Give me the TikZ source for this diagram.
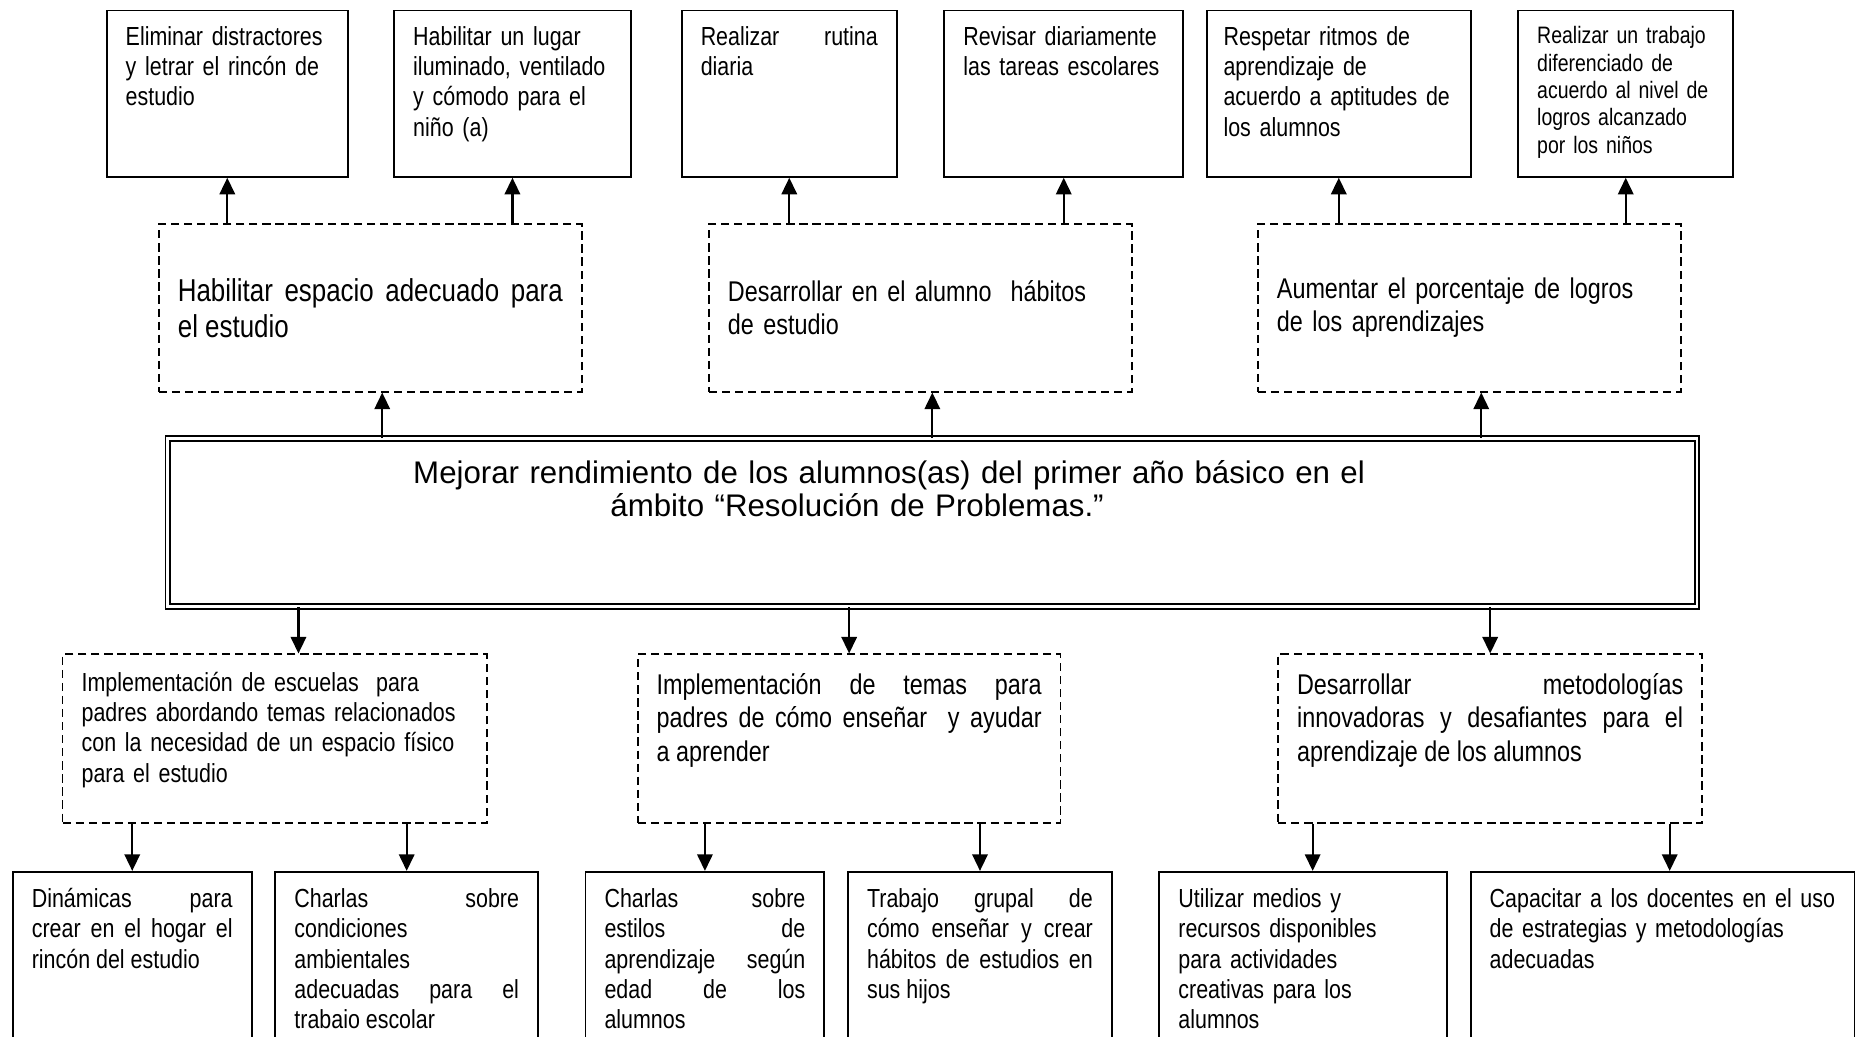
\documentclass[tikz,border=0pt]{standalone}
\usepackage{fontspec}
\setmainfont{Liberation Sans}
\newfontfamily\narrowfont{Liberation Sans}[FakeStretch=0.82]
\usetikzlibrary{arrows.meta}

\begin{document}
\begin{tikzpicture}[x=0.5pt,y=-0.5pt,
  solidbox/.style={draw,line width=0.8pt,anchor=north west,inner xsep=8pt,inner ysep=0pt,align=left},
  dashedbox/.style={solidbox,line width=0.7pt,dash pattern=on 3.5pt off 2pt},
  smallfont/.style={font=\narrowfont\fontsize{11}{12.75}\selectfont},
  midfont/.style={font=\narrowfont\fontsize{12}{14}\selectfont},
  finbox/.style={solidbox,smallfont,text height=14.7pt,text depth=55.3pt},
  objbox/.style={dashedbox,midfont,minimum height=70.5pt},
  medbox/.style={solidbox,smallfont,text height=15pt,text depth=70pt},
  link/.style={-{Triangle[length=7pt,width=6.5pt]},line width=0.9pt}]
\path[use as bounding box] (0,0) rectangle (1568,872);
\clip (0,0) rectangle (1568,872);
\node[finbox,text width=85.5pt] (t1) at (89,8) {Eliminar distractores\\y letrar el rincón de\\estudio};
\node[finbox,text width=83.5pt] (t2) at (331,8) {Habilitar un lugar\\iluminado, ventilado\\y cómodo para el\\niño (a)};
\node[finbox,text width=74.5pt,align=justify] (t3) at (573,8) {Realizar rutina\linebreak diaria};
\node[finbox,text width=84.5pt] (t4) at (794,8) {Revisar diariamente\\las tareas escolares};
\node[finbox,text width=97pt,inner xsep=7pt] (t5) at (1015,8) {Respetar ritmos de\\aprendizaje de\\acuerdo a aptitudes de\\los alumnos};
\node[finbox,text width=74.5pt,font=\narrowfont\fontsize{10}{11.5}\selectfont,text height=14pt,text depth=56pt] (t6) at (1277,8) {Realizar un trabajo\\diferenciado de\\acuerdo al nivel de\\logros alcanzado\\por los niños};
\node[objbox,text width=162pt,align=justify,font=\narrowfont\fontsize{13.3}{15}\selectfont] (m1) at (133,188) {Habilitar espacio adecuado para\linebreak el estudio};
\node[objbox,text width=162pt] (m2) at (596,188) {Desarrollar en el alumno~ hábitos\\de estudio};
\node[objbox,text width=162pt] (m3) at (1058,188) {Aumentar el porcentaje de logros\\de los aprendizajes};
\node[draw,double,double distance=1.2pt,line width=0.8pt,anchor=north west,inner sep=0pt,text width=643.5pt,align=left,text height=18.75pt,text depth=51.75pt,font=\fontsize{13.15}{14}\selectfont] (main) at (140.5,368.5) {\hspace*{103.25pt}Mejorar rendimiento de los alumnos(as) del primer año básico en el\\\hspace*{186.25pt}ámbito “Resolución de Problemas.”};
\node[dashedbox,smallfont,text width=162.5pt,text height=15.5pt,text depth=55.5pt] (b1) at (52,550) {Implementación de escuelas~ para\\padres abordando temas relacionados\\con la necesidad de un espacio físico\\para el estudio};
\node[dashedbox,midfont,text width=162pt,align=justify,text height=17pt,text depth=54pt] (b2) at (536,550) {Implementación de temas para\linebreak padres de cómo enseñar~ y ayudar\linebreak a aprender};
\node[dashedbox,midfont,text width=162.5pt,align=justify,text height=17pt,text depth=54pt] (b3) at (1075,550) {Desarrollar metodologías\linebreak innovadoras y desafiantes para el\linebreak aprendizaje de los alumnos};
\node[medbox,text width=84.5pt,align=justify] (l1) at (10,733) {Dinámicas para\linebreak crear en el hogar el\linebreak rincón del estudio};
\node[medbox,text width=94.5pt,align=justify] (l2) at (231,733) {Charlas sobre\linebreak condiciones\\ambientales\\adecuadas para el\linebreak trabaio escolar};
\node[medbox,text width=84.5pt,align=justify] (l3) at (492,733) {Charlas sobre\linebreak estilos de\linebreak aprendizaje según\linebreak edad de los\linebreak alumnos};
\node[medbox,text width=95pt,align=justify] (l4) at (713,733) {Trabajo grupal de\linebreak cómo enseñar y crear\linebreak hábitos de estudios en\linebreak sus hijos};
\node[medbox,text width=105pt] (l5) at (975,733) {Utilizar medios y\\recursos disponibles\\para actividades\\creativas para los\\alumnos};
\node[medbox,text width=145.5pt] (l6) at (1237,733) {Capacitar a los docentes en el uso\\de estrategias y metodologías\\adecuadas};
\draw[link] (t1.south |- m1.north) -- (t1.south);
\draw[link] (t2.south |- m1.north) -- (t2.south);
\draw[link] (t3.south |- m2.north) -- (t3.south);
\draw[link] (t4.south |- m2.north) -- (t4.south);
\draw[link] (t5.south |- m3.north) -- (t5.south);
\draw[link] (t6.south |- m3.north) -- (t6.south);
\draw[link] ([xshift=5pt]m1.south |- main.north) -- ([xshift=5pt]m1.south);
\draw[link] ([xshift=5pt]m2.south |- main.north) -- ([xshift=5pt]m2.south);
\draw[link] ([xshift=5pt]m3.south |- main.north) -- ([xshift=5pt]m3.south);
\draw[link] ([xshift=10pt]b1.north |- main.south) -- ([xshift=10pt]b1.north);
\draw[link] (b2.north |- main.south) -- (b2.north);
\draw[link] (b3.north |- main.south) -- (b3.north);
\draw[link] (l1.north |- b1.south) -- (l1.north);
\draw[link] (l2.north |- b1.south) -- (l2.north);
\draw[link] (l3.north |- b2.south) -- (l3.north);
\draw[link] (l4.north |- b2.south) -- (l4.north);
\draw[link] ([xshift=4pt]l5.north |- b3.south) -- ([xshift=4pt]l5.north);
\draw[link] ([xshift=3pt]l6.north |- b3.south) -- ([xshift=3pt]l6.north);
\end{tikzpicture}
\end{document}
